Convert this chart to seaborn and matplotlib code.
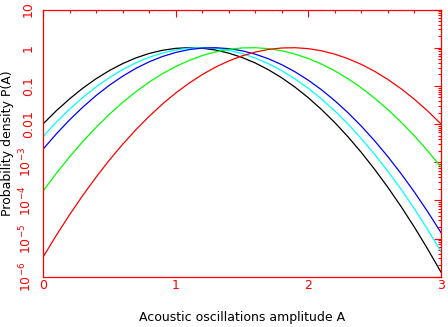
import pandas as pd
import numpy as np
import matplotlib
matplotlib.use('Agg')
import matplotlib.pyplot as plt
import matplotlib.ticker as mticker
import seaborn as sns

# amplitude grid
amplitude = [0.0, 0.1, 0.2, 0.3, 0.4, 0.5, 0.6, 0.7, 0.8, 0.9, 1.0,
             1.1, 1.2, 1.3, 1.4, 1.5, 1.6, 1.7, 1.8, 1.9, 2.0,
             2.1, 2.2, 2.3, 2.4, 2.5, 2.6, 2.7, 2.8, 2.9, 3.0]

# log10 P(A) for each curve
logp_black = [-2.000, -1.654, -1.342, -1.061, -0.814, -0.600, -0.418, -0.269, -0.152, -0.069, -0.018,
              -0.000, -0.015, -0.062, -0.143, -0.256, -0.401, -0.580, -0.791, -1.035, -1.312,
              -1.622, -1.964, -2.339, -2.747, -3.188, -3.661, -4.167, -4.706, -5.278, -5.882]
logp_cyan = [-2.328, -1.954, -1.613, -1.305, -1.029, -0.786, -0.575, -0.398, -0.253, -0.140, -0.061,
             -0.014, -0.000, -0.019, -0.070, -0.154, -0.271, -0.421, -0.603, -0.818, -1.065,
             -1.346, -1.659, -2.005, -2.383, -2.795, -3.239, -3.715, -4.225, -4.767, -5.342]
logp_blue = [-2.661, -2.261, -1.893, -1.558, -1.255, -0.985, -0.748, -0.543, -0.371, -0.232, -0.125,
             -0.051, -0.010, -0.001, -0.025, -0.081, -0.170, -0.292, -0.446, -0.633, -0.853,
             -1.105, -1.390, -1.708, -2.058, -2.441, -2.856, -3.305, -3.785, -4.299, -4.845]
logp_green = [-3.759, -3.295, -2.862, -2.459, -2.087, -1.745, -1.434, -1.153, -0.903, -0.683, -0.494,
              -0.336, -0.208, -0.111, -0.044, -0.007, -0.001, -0.026, -0.081, -0.167, -0.284,
              -0.431, -0.608, -0.816, -1.054, -1.324, -1.623, -1.953, -2.314, -2.705, -3.127]
logp_red = [-5.489, -4.918, -4.378, -3.870, -3.393, -2.947, -2.533, -2.150, -1.799, -1.478, -1.189,
            -0.932, -0.706, -0.511, -0.348, -0.216, -0.115, -0.046, -0.008, -0.001, -0.026,
            -0.082, -0.170, -0.289, -0.439, -0.620, -0.833, -1.078, -1.353, -1.660, -1.999]

curve_names = ['black', 'cyan', 'blue', 'green', 'red']
curve_colors = {'black': '#000000', 'cyan': '#00ffff', 'blue': '#0000ff',
                'green': '#00ff00', 'red': '#ff0000'}

y_ticks = [10, 1, 0.1, 0.01, 1e-3, 1e-4, 1e-5, 1e-6]
y_tick_labels = ['10', '1', '0.1', '0.01', r'$10^{-3}$', r'$10^{-4}$', r'$10^{-5}$', r'$10^{-6}$']
x_ticks = [0, 1, 2, 3]

frames = []
for name, vals in zip(curve_names, [logp_black, logp_cyan, logp_blue, logp_green, logp_red]):
    frames.append(pd.DataFrame({'A': amplitude, 'P': 10 ** np.array(vals), 'curve': name}))
df = pd.concat(frames, ignore_index=True)

sns.set_style('white')
plt.rcParams['font.family'] = ['DejaVu Sans']
plt.rcParams['mathtext.fontset'] = 'dejavusans'

fig = plt.figure(figsize=(4.48, 3.27), dpi=100)
ax = fig.add_axes([43 / 448, 1 - 276.7 / 327, (441 - 43) / 448, (276.7 - 9.5) / 327])

sns.lineplot(data=df, x='A', y='P', hue='curve', palette=curve_colors,
             hue_order=curve_names, linewidth=0.9, legend=False, ax=ax)

ax.set_yscale('log')
ax.set_xlim(0, 3)
ax.set_ylim(1e-6, 10)

red = '#ff0000'
for sp in ax.spines.values():
    sp.set_color(red)
    sp.set_linewidth(0.9)

ax.set_xticks(x_ticks)
ax.set_xticklabels([str(t) for t in x_ticks])
ax.xaxis.set_minor_locator(mticker.MultipleLocator(0.2))
ax.set_yticks(y_ticks)
ax.set_yticklabels(y_tick_labels)
ax.yaxis.set_minor_locator(mticker.LogLocator(base=10, subs=np.arange(2, 10), numticks=20))
ax.yaxis.set_minor_formatter(mticker.NullFormatter())

ax.tick_params(which='both', direction='in', top=True, right=True, color=red,
               labelcolor=red, labelsize=9)
ax.tick_params(which='major', length=5, width=0.8)
ax.tick_params(which='minor', length=2.5, width=0.8)
ax.tick_params(axis='x', pad=1.5)
ax.tick_params(axis='y', pad=6)
for lab in ax.get_yticklabels():
    lab.set_rotation(90)
    lab.set_va('center')

ax.set_xlabel('Acoustic oscillations amplitude A', fontsize=9, color='black', labelpad=14)
ax.set_ylabel('Probability density P(A)', fontsize=9, color='black', labelpad=3)

fig.savefig('out.png', dpi=100)
